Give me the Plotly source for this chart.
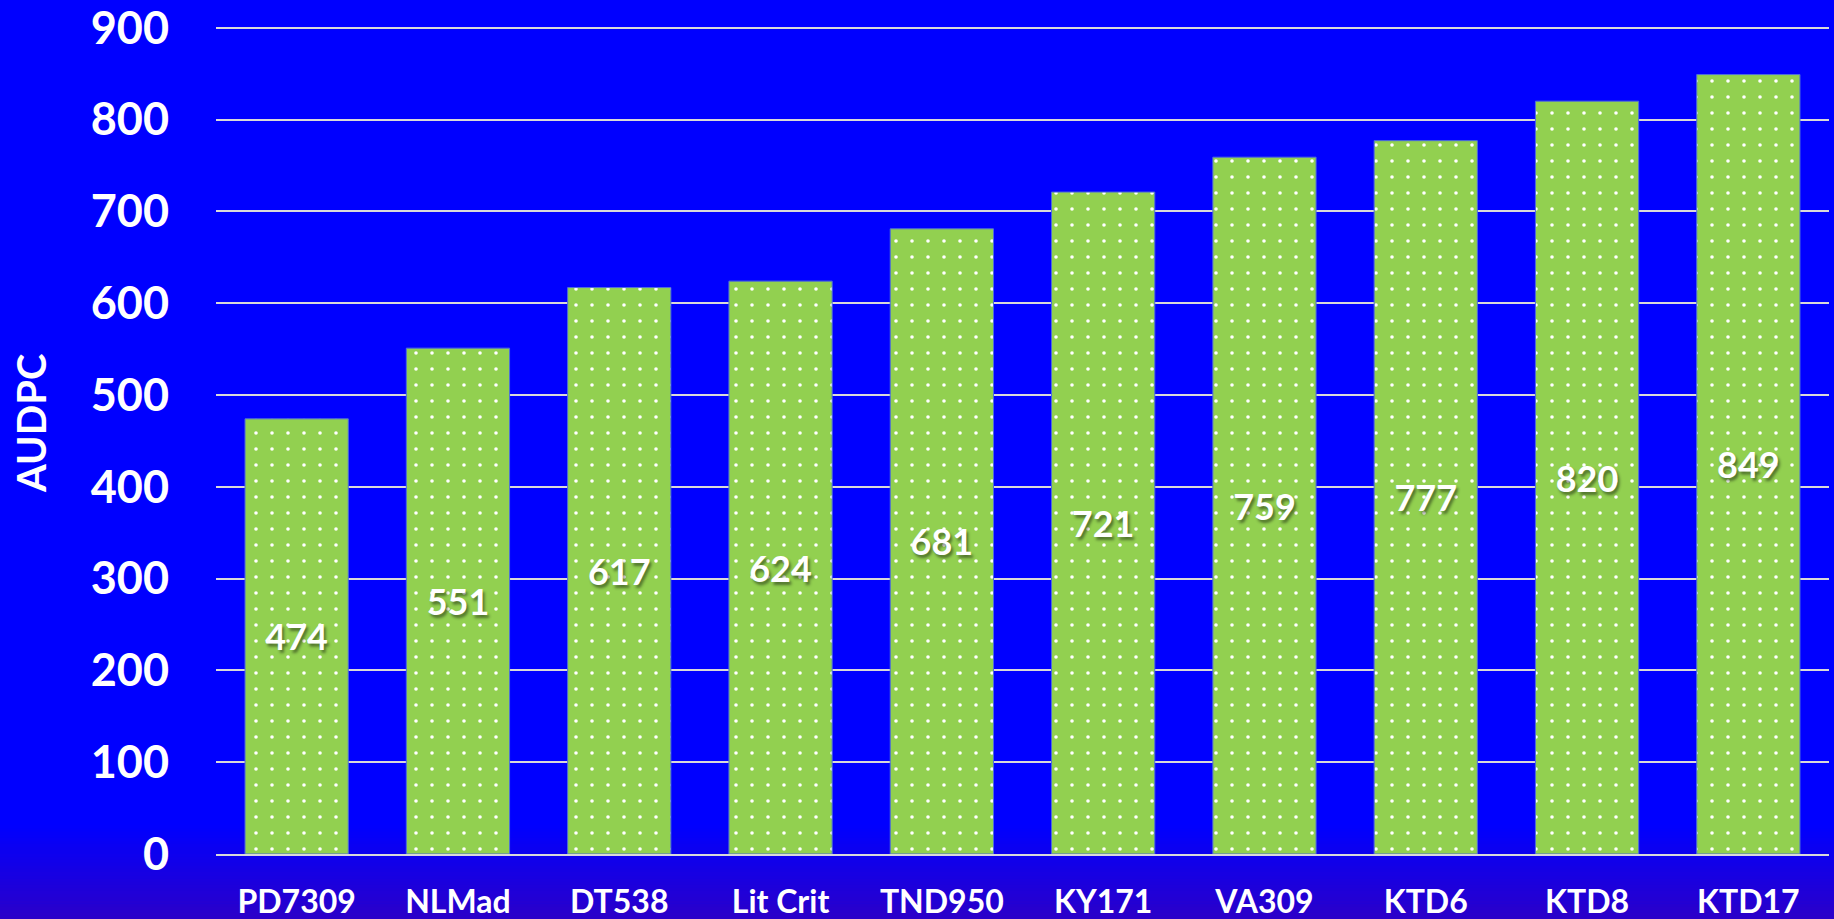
import plotly.graph_objects as go

categories = ["PD7309", "NLMad", "DT538", "Lit Crit", "TND950", "KY171", "VA309", "KTD6", "KTD8", "KTD17"]
audpc = [474, 551, 617, 624, 681, 721, 759, 777, 820, 849]
y_ticks = [0, 100, 200, 300, 400, 500, 600, 700, 800, 900]

W, H = 1834, 919
FONT = "Lato, 'Open Sans', sans-serif"
T, B, L, R = 25, 65, 216, 5

fig = go.Figure()
fig.add_trace(go.Bar(
    x=categories,
    y=audpc,
    text=[str(v) for v in audpc],
    textposition="inside",
    insidetextanchor="middle",
    textangle=0,
    textfont=dict(family=FONT, size=36, color="white", weight="bold",
                  shadow="2px 3px 3px rgba(0,0,0,0.45)"),
    marker=dict(
        color="#92D050",
        line=dict(color="#4F6FD8", width=1),
        pattern=dict(shape=".", bgcolor="#92D050", fgcolor="white",
                     size=16, solidity=0.04, fillmode="replace"),
    ),
    width=0.64,
    hoverinfo="x+y",
))

# background gradient near bottom of the paper
ph = H - T - B
shapes = []
top_px, bot_px = 825, H
n = 30
c0 = (0, 0, 255)
c1 = (44, 0, 200)
for i in range(n):
    y0 = top_px + (bot_px - top_px) * i / n
    y1 = top_px + (bot_px - top_px) * (i + 1) / n + 0.5
    t = (i + 0.5) / n
    col = tuple(round(c0[k] + (c1[k] - c0[k]) * t) for k in range(3))
    shapes.append(dict(type="rect", xref="paper", yref="paper", layer="below",
                       x0=-1, x1=2,
                       y0=(H - B - y1) / ph, y1=(H - B - y0) / ph,
                       line=dict(width=0),
                       fillcolor="rgb(%d,%d,%d)" % col))

fig.update_layout(
    width=W, height=H,
    margin=dict(l=L, r=R, t=T, b=B, autoexpand=False),
    paper_bgcolor="#0000FF",
    plot_bgcolor="rgba(0,0,0,0)",
    showlegend=False,
    bargap=0.36,
    shapes=shapes,
    font=dict(family=FONT, color="white"),
    xaxis=dict(
        showgrid=False,
        showline=True, linecolor="#D9D9D9", linewidth=2,
        tickfont=dict(family=FONT, size=32, color="white", weight="bold"),
        ticks="", ticklabelstandoff=19,
        zeroline=False, automargin=False,
    ),
    yaxis=dict(
        range=[0, 903],
        tickvals=y_ticks,
        showgrid=True, gridcolor="#D9D9D9", gridwidth=2,
        zeroline=False, showline=False,
        tickfont=dict(family=FONT, size=45, color="white", weight="bold"),
        ticks="", ticklabelstandoff=46,
        ticklabeloverflow="allow", automargin=False,
    ),
    annotations=[dict(
        text="AUDPC", textangle=-90, xref="paper", yref="paper",
        x=(31 - L) / (W - L - R), y=(H - B - 424) / ph,
        xanchor="center", yanchor="middle", showarrow=False,
        font=dict(family=FONT, size=40, color="white", weight="bold"),
    )],
)

post = (
    "var gd=document.getElementById('{plot_id}');"
    "gd.style.position='fixed';gd.style.left='0px';gd.style.top='0px';"
    "document.body.style.margin='0';document.body.style.overflow='hidden';"
    "document.documentElement.style.overflow='hidden';"
    "document.body.style.background='#0000FF';"
)
fig.write_html("out.html", config={"displayModeBar": False}, post_script=post)
